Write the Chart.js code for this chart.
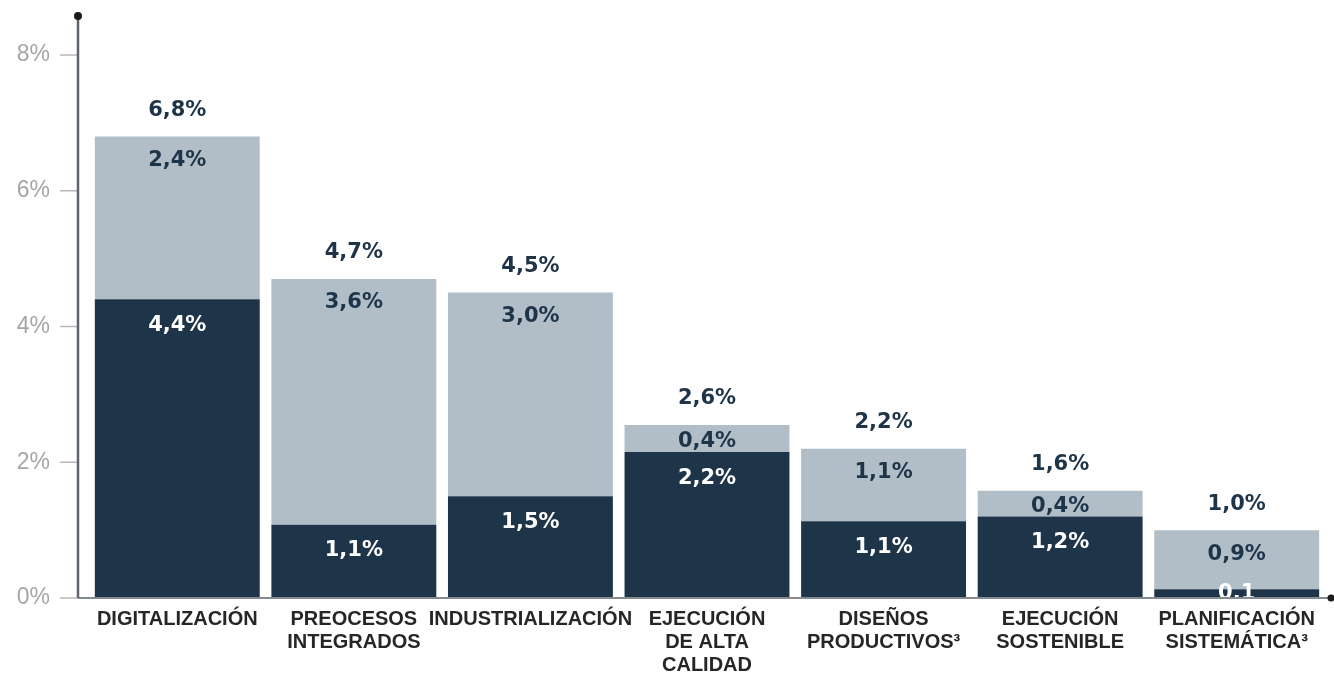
<!DOCTYPE html>
<html>
<head>
<meta charset="utf-8">
<script src="https://cdn.jsdelivr.net/npm/chart.js@4/dist/chart.umd.min.js"></script>
<style>
  html, body { margin: 0; padding: 0; background: #fff; }
  #wrap { width: 1334px; height: 674px; position: relative; }
</style>
</head>
<body>
<div id="wrap"><canvas id="chart"></canvas></div>
<script>
var categories = [
    ["DIGITALIZACIÓN"],
    ["PREOCESOS", "INTEGRADOS"],
    ["INDUSTRIALIZACIÓN"],
    ["EJECUCIÓN", "DE ALTA", "CALIDAD"],
    ["DISEÑOS", "PRODUCTIVOS³"],
    ["EJECUCIÓN", "SOSTENIBLE"],
    ["PLANIFICACIÓN", "SISTEMÁTICA³"]
];
var darkValues = [4.4, 1.08, 1.5, 2.15, 1.13, 1.2, 0.13];
var lightValues = [2.4, 3.62, 3.0, 0.4, 1.07, 0.38, 0.87];
var darkLabels = ["4,4%", "1,1%", "1,5%", "2,2%", "1,1%", "1,2%", "0,1"];
var lightLabels = ["2,4%", "3,6%", "3,0%", "0,4%", "1,1%", "0,4%", "0,9%"];
var totalLabels = ["6,8%", "4,7%", "4,5%", "2,6%", "2,2%", "1,6%", "1,0%"];
var yTicks = [0, 2, 4, 6, 8];

var DARK = "#1e3449";
var LIGHT = "#b1bec7";

// value labels on the bars + hand drawn axes
var barLabels = {
    id: 'barLabels',
    afterDatasetsDraw: function(chart) {
        var ctx = chart.ctx, area = chart.chartArea;
        var dark = chart.getDatasetMeta(0).data;
        var light = chart.getDatasetMeta(1).data;
        ctx.save();
        ctx.beginPath();
        ctx.rect(area.left - 20, 0, area.right - area.left + 40, area.bottom - 1);
        ctx.clip();
        ctx.font = 'bold 21px "DejaVu Sans"';
        ctx.textAlign = 'center';
        ctx.textBaseline = 'middle';
        for (var i = 0; i < dark.length; i++) {
            var d = dark[i], l = light[i];
            ctx.fillStyle = '#ffffff';
            ctx.fillText(darkLabels[i], d.x, Math.min(d.y + 26, d.base - 4));
            var h = l.base - l.y;
            ctx.fillStyle = DARK;
            ctx.fillText(lightLabels[i], l.x, l.y + Math.min(24, h / 2 + 3));
            ctx.fillText(totalLabels[i], l.x, l.y - 26);
        }
        ctx.restore();
    },
    afterDraw: function(chart) {
        var ctx = chart.ctx, area = chart.chartArea;
        var yScale = chart.scales.y;
        var ax = area.left - 11;
        ctx.save();
        ctx.strokeStyle = '#b8b8b8';
        ctx.lineWidth = 1.5;
        yTicks.forEach(function(v) {
            var y = yScale.getPixelForValue(v);
            ctx.beginPath();
            ctx.moveTo(ax - 18, y);
            ctx.lineTo(ax, y);
            ctx.stroke();
        });
        ctx.strokeStyle = '#848b91';
        ctx.lineWidth = 2;
        ctx.beginPath();
        ctx.moveTo(ax, area.bottom);
        ctx.lineTo(1331, area.bottom);
        ctx.stroke();
        ctx.strokeStyle = '#5c656d';
        ctx.lineWidth = 2.5;
        ctx.beginPath();
        ctx.moveTo(ax, area.top);
        ctx.lineTo(ax, area.bottom);
        ctx.stroke();
        ctx.fillStyle = '#1c1c1c';
        ctx.beginPath();
        ctx.arc(ax, area.top, 4, 0, Math.PI * 2);
        ctx.fill();
        ctx.beginPath();
        ctx.arc(1331, area.bottom, 3.5, 0, Math.PI * 2);
        ctx.fill();
        ctx.restore();
    }
};

var ctx = document.getElementById("chart");
new Chart(ctx, {
    type: 'bar',
    data: {
        labels: categories,
        datasets: [{
            data: darkValues,
            backgroundColor: DARK,
            borderWidth: 0,
            barPercentage: 0.934,
            categoryPercentage: 1
        }, {
            data: lightValues,
            backgroundColor: LIGHT,
            borderWidth: 0,
            barPercentage: 0.934,
            categoryPercentage: 1
        }]
    },
    options: {
        responsive: true,
        maintainAspectRatio: false,
        animation: false,
        devicePixelRatio: 1,
        layout: { padding: { top: 16, right: 9, left: 0, bottom: 0 } },
        plugins: {
            legend: { display: false },
            tooltip: { enabled: false }
        },
        scales: {
            x: {
                stacked: true,
                grid: { display: false, drawTicks: false },
                border: { display: false },
                ticks: {
                    color: '#262626',
                    font: { family: '"Liberation Sans", Arial', weight: 'bold', size: 20, lineHeight: 1.15 },
                    padding: 10,
                    maxRotation: 0,
                    autoSkip: false
                },
                afterFit: function(scale) { scale.height = 76; }
            },
            y: {
                stacked: true,
                min: 0,
                max: 8.575,
                grid: { display: false, drawTicks: true, tickLength: 39 },
                border: { display: false },
                afterBuildTicks: function(scale) {
                    scale.ticks = yTicks.map(function(v) { return { value: v }; });
                },
                ticks: {
                    color: '#a6a6a6',
                    font: { family: '"Liberation Sans", Arial', size: 23 },
                    padding: 0,
                    callback: function(v) { return v + '%'; }
                },
                afterFit: function(scale) { scale.width = 89; }
            }
        }
    },
    plugins: [barLabels]
});
</script>
</body>
</html>
